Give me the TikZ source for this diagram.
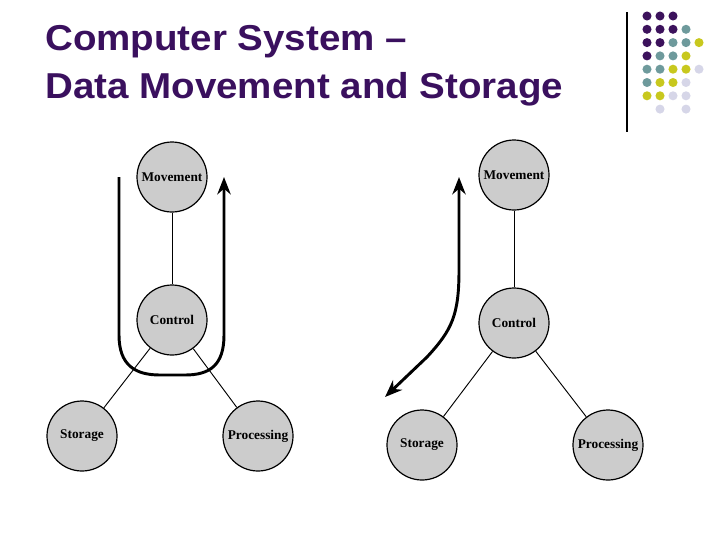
\documentclass[tikz,border=0pt]{standalone}
\usepackage{fontspec}
\setmainfont{Liberation Serif}
\newfontfamily\titlefont[FakeStretch=1.07]{Liberation Sans}
\usetikzlibrary{arrows.meta}

\definecolor{titlepurple}{RGB}{58,16,94}
\definecolor{dotP}{RGB}{60,18,92}
\definecolor{dotT}{RGB}{110,154,156}
\definecolor{dotY}{RGB}{200,200,30}
\definecolor{dotL}{RGB}{214,214,232}
\definecolor{nodegray}{RGB}{204,204,204}

\begin{document}
\begin{tikzpicture}[x=0.75pt, y=-0.75pt,
    unit/.style={circle, draw=black, line width=0.9pt, fill=nodegray,
      minimum size=52.5pt, inner sep=0pt,
      font=\fontsize{10}{12}\selectfont\bfseries},
    link/.style={line width=0.7pt},
    tip/.tip={Stealth[length=13pt, width=10pt]},
    flow/.style={line width=2.2pt},
    heading/.style={anchor=base west, text=titlepurple, inner sep=0pt,
      font=\titlefont\fontsize{27}{30}\selectfont\bfseries}]

        \useasboundingbox (0,0) rectangle (720,540);

        % title
        \node[heading] (title1) at (45,50) {Computer System –};
        \node[heading] (title2) at (45,98) {Data Movement and Storage};

        % the dots up in the corner
        \draw[line width=0.8pt] (627,12) -- (627,132);
        \foreach \c/\r/\col in {1/1/dotP, 2/1/dotP, 3/1/dotP,
            1/2/dotP, 2/2/dotP, 3/2/dotP, 4/2/dotT,
            1/3/dotP, 2/3/dotP, 3/3/dotT, 4/3/dotT, 5/3/dotY,
            1/4/dotP, 2/4/dotT, 3/4/dotT, 4/4/dotY,
            1/5/dotT, 2/5/dotT, 3/5/dotY, 4/5/dotY, 5/5/dotL,
            1/6/dotT, 2/6/dotY, 3/6/dotY, 4/6/dotL,
            1/7/dotY, 2/7/dotY, 3/7/dotL, 4/7/dotL,
            2/8/dotL, 4/8/dotL}{
          \fill[\col] (634+13*\c, 2.7+13.3*\r) circle (3.4pt);
          }

        % left: movement through control
        \node[unit] (movA) at (172,177) {Movement};
        \node[unit] (ctlA) at (172,320) {Control};
        \node[unit] (stoA) at (82,436) {Storage};
        \node[unit] (proA) at (258,436) {Processing};
        \draw[link] (movA) -- (ctlA);
        \draw[link] (ctlA) -- (stoA);
        \draw[link] (ctlA) -- (proA);
        \coordinate (inA) at (119,177);
        \coordinate (outA) at (224,177);
        \draw[flow, -tip] (inA) -- (119,335)
          .. controls (119,365) and (135,375) .. (160,375) -- (185,375)
          .. controls (210,375) and (224,365) .. (224,335) -- (outA);

        % right: movement to storage
        \node[unit] (movB) at (514,175) {Movement};
        \node[unit] (ctlB) at (514,323) {Control};
        \node[unit] (stoB) at (422,445) {Storage};
        \node[unit] (proB) at (608,445) {Processing};
        \draw[link] (movB) -- (ctlB);
        \draw[link] (ctlB) -- (stoB);
        \draw[link] (ctlB) -- (proB);
        \coordinate (topB) at (459,177);
        \coordinate (lowB) at (385,397);
        \draw[flow, tip-tip] (topB) -- (459,270)
          .. controls (459,315) and (452,330) .. (427,357) -- (lowB);
      \end{tikzpicture}
\end{document}
